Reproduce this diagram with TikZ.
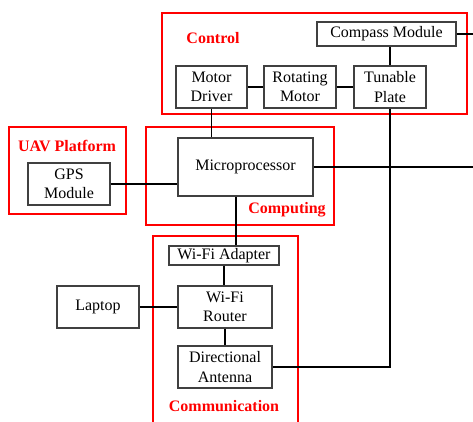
\documentclass[tikz,border=0pt]{standalone}
\usepackage{fontspec}
\setmainfont{Liberation Serif}
\begin{document}
\begin{tikzpicture}[x=1pt,y=-1pt,
  every node/.style={font=\fontsize{16}{19.5}\selectfont},
  blk/.style={draw=black!75, line width=1.1pt, align=center, inner sep=0pt},
  grp/.style={draw=red, line width=2.2pt},
  grplabel/.style={text=red, font=\fontsize{16}{19}\selectfont\bfseries},
  conn/.style={draw=black, line width=1.1pt}]
\useasboundingbox (0,0) rectangle (473,422);
% groups
\draw[grp] (162,13) rectangle (467,114);
\node[grplabel] (lctrl) at (213,38) {Control};
\draw[grp] (9,127) rectangle (126,214);
\node[grplabel] (luav) at (67,146) {UAV Platform};
\draw[grp] (146,127) rectangle (334,225);
\node[grplabel] (lcomp) at (287,210) {Computing};
\draw[grp] (153,236) rectangle (298,440);
\node[grplabel] (lcomm) at (224,406) {Communication};
% blocks
\node[blk, minimum width=139, minimum height=24] (compass) at (386.5,34) {Compass Module};
\node[blk, minimum width=71, minimum height=42] (driver) at (211.5,87) {Motor\\Driver};
\node[blk, minimum width=72, minimum height=42] (rotating) at (300,87) {Rotating\\Motor};
\node[blk, minimum width=72, minimum height=42] (tunable) at (390,87) {Tunable\\Plate};
\node[blk, minimum width=82, minimum height=42] (gps) at (69,184) {GPS\\Module};
\node[blk, minimum width=135, minimum height=58] (micro) at (245.5,167) {Microprocessor};
\node[blk, minimum width=110, minimum height=19] (adapter) at (224,255.5) {Wi-Fi Adapter};
\node[blk, minimum width=94, minimum height=42] (router) at (225,307) {Wi-Fi\\Router};
\node[blk, minimum width=94, minimum height=42] (antenna) at (225,367) {Directional\\Antenna};
\node[blk, minimum width=82, minimum height=42] (laptop) at (98,307) {Laptop};
\coordinate (cmpout) at (473,34);
\coordinate (micout) at (473,167);
% connectors
\draw[conn] (compass.east) -- (cmpout);
\draw[conn] (tunable.north) -- (tunable.north |- compass.south);
\draw[conn] (driver) -- (rotating);
\draw[conn] (rotating) -- (tunable);
\draw[conn] (driver.south) -- (driver.south |- micro.north);
\draw[conn] (micro.east) -- (micout);
\draw[conn] (gps.east) -- (micro.west |- gps.east);
\draw[conn] ([xshift=-9.5pt]micro.south) -- ([xshift=-9.5pt]micro.south |- adapter.north);
\draw[conn] (adapter.south) -- (adapter.south |- router.north);
\draw[conn] (router) -- (antenna);
\draw[conn] (laptop) -- (router);
\draw[conn] (antenna.east) -| (tunable.south);
\end{tikzpicture}
\end{document}
